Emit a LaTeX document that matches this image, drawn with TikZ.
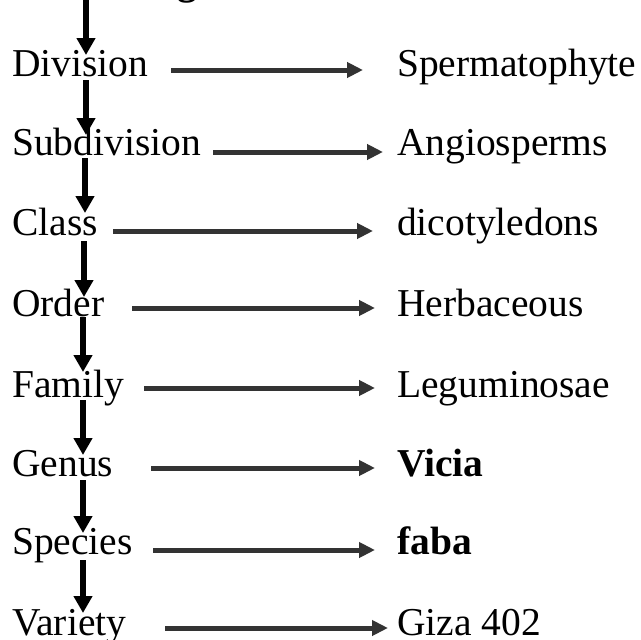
\documentclass[tikz,border=0pt]{standalone}
\usepackage{fontspec}
\setmainfont{Liberation Serif}
\usetikzlibrary{arrows.meta}
\definecolor{hgray}{HTML}{333333}
\tikzset{
  lbl/.style={anchor=base west, inner sep=0pt, font=\fontsize{39.5}{40}\selectfont},
  harrow/.style={draw=hgray, line width=5pt, -{Triangle[length=16pt,width=15pt]}},
  varrow/.style={draw=black, line width=6pt, -{Triangle[length=17pt,width=18pt]}},
}
\begin{document}
\begin{tikzpicture}[x=1pt,y=-1pt]
\useasboundingbox (0,0) rectangle (641,640);
\clip (0,0) rectangle (641,640);
% partially visible heading letter
\node[lbl, font=\fontsize{39.5}{40}\selectfont\bfseries] (kg) at (177,-6) {g};
\coordinate (topc) at (86,-3);
% left column
\node[lbl] (div) at (12,76) {Division};
\node[lbl] (sub) at (12,155) {Subdivision};
\node[lbl] (cls) at (12,235) {Class};
\node[lbl] (ord) at (12,316) {Order};
\node[lbl] (fam) at (12,397) {Family};
\node[lbl] (gen) at (12,476) {Genus};
\node[lbl] (spe) at (12,554) {Species};
\node[lbl] (var) at (12,635) {Variety};
% right column
\node[lbl] (rdiv) at (397,76) {Spermatophyte};
\node[lbl] (rsub) at (397,155) {Angiosperms};
\node[lbl] (rcls) at (397,235) {dicotyledons};
\node[lbl] (rord) at (397,316) {Herbaceous};
\node[lbl] (rfam) at (397,397) {Leguminosae};
\node[lbl] (rgen) at (397,476) {\textbf{Vicia}};
\node[lbl] (rspe) at (397,554) {\textbf{faba}};
\node[lbl] (rvar) at (397,635) {Giza 402};
% horizontal arrows
\draw[harrow] ([shift={(159,-6)}]div.base west) -- ([shift={(-34,-6)}]rdiv.base west);
\draw[harrow] ([shift={(201,-3)}]sub.base west) -- ([shift={(-14,-3)}]rsub.base west);
\draw[harrow] ([shift={(101,-4)}]cls.base west) -- ([shift={(-24,-4)}]rcls.base west);
\draw[harrow] ([shift={(120,-8)}]ord.base west) -- ([shift={(-22,-8)}]rord.base west);
\draw[harrow] ([shift={(132,-9)}]fam.base west) -- ([shift={(-22,-9)}]rfam.base west);
\draw[harrow] ([shift={(139,-8)}]gen.base west) -- ([shift={(-22,-8)}]rgen.base west);
\draw[harrow] ([shift={(141,-4)}]spe.base west) -- ([shift={(-22,-4)}]rspe.base west);
\draw[harrow] ([shift={(153,-7)}]var.base west) -- ([shift={(-9,-7)}]rvar.base west);
% vertical arrows
\draw[varrow] (topc) -- ([shift={(74,-21)}]div.base west);
\draw[varrow] ([shift={(74,4)}]div.base west) -- ([shift={(74,-20)}]sub.base west);
\draw[varrow] ([shift={(73,3)}]sub.base west) -- ([shift={(73,-22)}]cls.base west);
\draw[varrow] ([shift={(72,6)}]cls.base west) -- ([shift={(72,-19)}]ord.base west);
\draw[varrow] ([shift={(71,1)}]ord.base west) -- ([shift={(71,-25)}]fam.base west);
\draw[varrow] ([shift={(71,3)}]fam.base west) -- ([shift={(71,-21)}]gen.base west);
\draw[varrow] ([shift={(71,4)}]gen.base west) -- ([shift={(71,-21)}]spe.base west);
\draw[varrow] ([shift={(71,6)}]spe.base west) -- ([shift={(71,-22)}]var.base west);
\end{tikzpicture}
\end{document}
